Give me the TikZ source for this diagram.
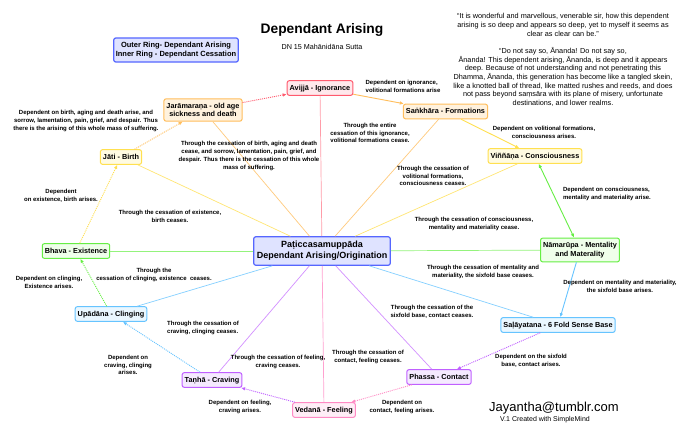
\documentclass[tikz,border=0pt]{standalone}
\usepackage{fontspec}
\setmainfont{Liberation Sans}
\usetikzlibrary{arrows.meta}

\definecolor{redline}{HTML}{FF5A6E}
\definecolor{redfill}{HTML}{FFE8EC}
\definecolor{orangeline}{HTML}{FFBE5C}
\definecolor{orangefill}{HTML}{FFF2DE}
\definecolor{yellowline}{HTML}{FFE050}
\definecolor{yellowfill}{HTML}{FFFBE2}
\definecolor{greenline}{HTML}{66EE44}
\definecolor{greenfill}{HTML}{EFFFEA}
\definecolor{blueline}{HTML}{66C4FF}
\definecolor{bluefill}{HTML}{EAF7FF}
\definecolor{purpleline}{HTML}{C060FF}
\definecolor{purplefill}{HTML}{F5EAFF}
\definecolor{pinkline}{HTML}{FF8AC4}
\definecolor{pinkfill}{HTML}{FFEEF7}
\definecolor{hubline}{HTML}{5566FF}
\definecolor{hubfill}{HTML}{DFE3FF}

\begin{document}
\begin{tikzpicture}[x=1pt,y=-1pt,
  stage/.style={draw, rounded corners=2pt, line width=1pt, align=center,
    font=\fontsize{7.3}{8.5}\selectfont\bfseries, inner xsep=2.5pt, inner ysep=4.2pt},
  oneline/.style={text height=5.8pt, text depth=1.6pt, inner ysep=3.6pt},
  note/.style={align=center, inner sep=0pt, font=\fontsize{6}{7.8}\selectfont\bfseries},
  spoke/.style={line width=0.7pt},
  arise/.style={line width=0.9pt, -{Latex[length=4pt,width=3.5pt]}},
  faint/.style={dash pattern=on 1pt off 1pt}
]
\path[fill=white] (0,0) rectangle (690,437);
\useasboundingbox (0,0) rectangle (690,437);

% title, legend and quote
\node (title) at (322,30) {\fontsize{13.8}{15}\selectfont\bfseries Dependant Arising};
\node (sutta) at (322,47) {\fontsize{7.2}{8}\selectfont DN 15 Mahānidāna Sutta};
\node[draw=hubline, fill=hubfill, line width=1.2pt, rounded corners=2pt, align=center,
  font=\fontsize{7.5}{9}\selectfont\bfseries, inner xsep=2pt, inner ysep=4pt] (legend) at (176,50)
  {Outer Ring- Dependant Arising\\Inner Ring - Dependant Cessation};
\node[align=center, inner sep=0pt, font=\fontsize{7.3}{8.7}\selectfont] (quote) at (563,60)
  {“It is wonderful and marvellous, venerable sir, how this dependent\\
   arising is so deep and appears so deep, yet to myself it seems as\\
   clear as clear can be.”\\[8.7pt]
   “Do not say so, Ānanda! Do not say so,\\
   Ānanda! This dependent arising, Ānanda, is deep and it appears\\
   deep. Because of not understanding and not penetrating this\\
   Dhamma, Ānanda, this generation has become like a tangled skein,\\
   like a knotted ball of thread, like matted rushes and reeds, and does\\
   not pass beyond saṃsāra with its plane of misery, unfortunate\\
   destinations, and lower realms.};

% the twelve links
\node[stage, draw=hubline, fill=hubfill, line width=1.2pt, font=\fontsize{9}{11}\selectfont\bfseries,
  inner xsep=3pt, inner ysep=4.5pt] (paticca) at (322,251)
  {Paṭiccasamuppāda\\Dependant Arising/Origination};
\node[stage, oneline, draw=redline, fill=redfill] (avijja) at (320,88) {Avijjā - Ignorance};
\node[stage, oneline, draw=orangeline, fill=orangefill] (sankhara) at (445.5,111.5) {Saṅkhāra - Formations};
\node[stage, oneline, draw=yellowline, fill=yellowfill] (vinnana) at (535,156) {Viññāṇa -  Consciousness};
\node[stage, draw=greenline, fill=greenfill] (namarupa) at (580,250) {Nāmarūpa - Mentality\\and Materality};
\node[stage, oneline, draw=blueline, fill=bluefill] (salayatana) at (558,325) {Saḷāyatana - 6 Fold Sense Base};
\node[stage, oneline, draw=purpleline, fill=purplefill] (phassa) at (439,377) {Phassa - Contact};
\node[stage, oneline, draw=pinkline, fill=pinkfill] (vedana) at (324,410) {Vedanā - Feeling};
\node[stage, oneline, draw=purpleline, fill=purplefill] (tanha) at (212,380) {Taṇhā - Craving};
\node[stage, oneline, draw=blueline, fill=bluefill] (upadana) at (111,314) {Upādāna - Clinging};
\node[stage, oneline, draw=greenline, fill=greenfill] (bhava) at (76,251) {Bhava - Existence};
\node[stage, oneline, draw=yellowline, fill=yellowfill] (jati) at (121,157) {Jāti - Birth};
\node[stage, draw=orangeline, fill=orangefill] (jaramarana) at (203,110) {Jarāmaraṇa - old age\\sickness and death};

% inner ring
\draw[spoke, redline!60] (paticca) -- (avijja);
\draw[spoke, orangeline!80] (paticca) -- (sankhara);
\draw[spoke, yellowline!80] (paticca) -- (vinnana);
\draw[spoke, greenline!70] (paticca) -- (namarupa);
\draw[spoke, blueline!80] (paticca) -- (salayatana);
\draw[spoke, purpleline!70] (paticca) -- (phassa);
\draw[spoke, pinkline!80] (paticca) -- (vedana);
\draw[spoke, purpleline!70] (paticca) -- (tanha);
\draw[spoke, blueline!80] (paticca) -- (upadana);
\draw[spoke, greenline!70] (paticca) -- (bhava);
\draw[spoke, yellowline!80] (paticca) -- (jati);
\draw[spoke, orangeline!80] (paticca) -- (jaramarana);

% outer ring
\draw[arise, faint, redline] (jaramarana) -- (avijja);
\draw[arise, orangeline] (avijja) -- (sankhara);
\draw[arise, yellowline] (sankhara) -- (vinnana);
\draw[arise, {Latex[length=4pt,width=3.5pt]}-{Latex[length=4pt,width=3.5pt]}, greenline] (vinnana) -- (namarupa);
\draw[arise, blueline] (namarupa) -- (salayatana);
\draw[arise, faint, purpleline] (salayatana) -- (phassa);
\draw[arise, faint, pinkline] (phassa) -- (vedana);
\draw[arise, faint, purpleline] (vedana) -- (tanha);
\draw[arise, faint, blueline] (tanha) -- (upadana);
\draw[arise, faint, greenline] (upadana) -- (bhava);
\draw[arise, faint, yellowline] (bhava) -- (jati);
\draw[arise, faint, orangeline] (jati) -- (jaramarana);

% arising
\node[note, align=left] (ariseA) at (403,86) {Dependent on ignorance,\\volitional formations arise};
\node[note] (ariseB) at (544,132) {Dependent on volitional formations,\\consciousness arises.};
\node[note, align=left] (ariseC) at (607,194) {Dependent on consciousness,\\mentality and materiality arise.};
\node[note] (ariseD) at (620,286) {Dependent on mentality and materiality,\\the sixfold base arises.};
\node[note] (ariseE) at (531,361) {Dependent on the sixfold\\base, contact arises.};
\node[note] (ariseF) at (402,407) {Dependent on\\contact, feeling arises.};
\node[note] (ariseG) at (240,407) {Dependent on feeling,\\craving arises.};
\node[note] (ariseH) at (128,365) {Dependent on\\craving, clinging\\arises.};
\node[note] (ariseI) at (49,282) {Dependent on clinging,\\Existence arises.};
\node[note] (ariseJ) at (61,196) {Dependent\\on existence, birth arises.};
\node[note] (ariseK) at (86,121) {Dependent on birth, aging and death arise, and\\sorrow, lamentation, pain, grief, and despair. Thus\\there is the arising of this whole mass of suffering.};

% cessation
\node[note] (ceaseA) at (370,133) {Through the entire\\cessation of this ignorance,\\volitional formations cease.};
\node[note] (ceaseB) at (249,156) {Through the cessation of birth, aging and death\\cease, and sorrow, lamentation, pain, grief, and\\despair. Thus there is the cessation of this whole\\mass of suffering.};
\node[note] (ceaseC) at (433,176) {Through the cessation of\\volitional formations,\\consciousness ceases.};
\node[note] (ceaseD) at (474,224) {Through the cessation of consciousness,\\mentality and materiality cease.};
\node[note] (ceaseE) at (483,272) {Through the cessation of mentality and\\materiality, the sixfold base ceases.};
\node[note] (ceaseF) at (170,216) {Through the cessation of existence,\\birth ceases.};
\node[note] (ceaseG) at (154,275) {Through the\\cessation of clinging, existence\ \ ceases.};
\node[note, align=left] (ceaseH) at (203,328) {Through the cessation of\\craving, clinging ceases.};
\node[note] (ceaseI) at (278,362) {Through the cessation of feeling,\\craving ceases.};
\node[note] (ceaseJ) at (368,357) {Through the cessation of\\contact, feeling ceases.};
\node[note] (ceaseK) at (432,312) {Through the cessation of the\\sixfold base, contact ceases.};

% credits
\node (author) at (554,408) {\fontsize{13}{14}\selectfont Jayantha@tumblr.com};
\node (credit) at (545,420) {\fontsize{7}{8}\selectfont V.1 Created with SimpleMind};
\end{tikzpicture}
\end{document}
